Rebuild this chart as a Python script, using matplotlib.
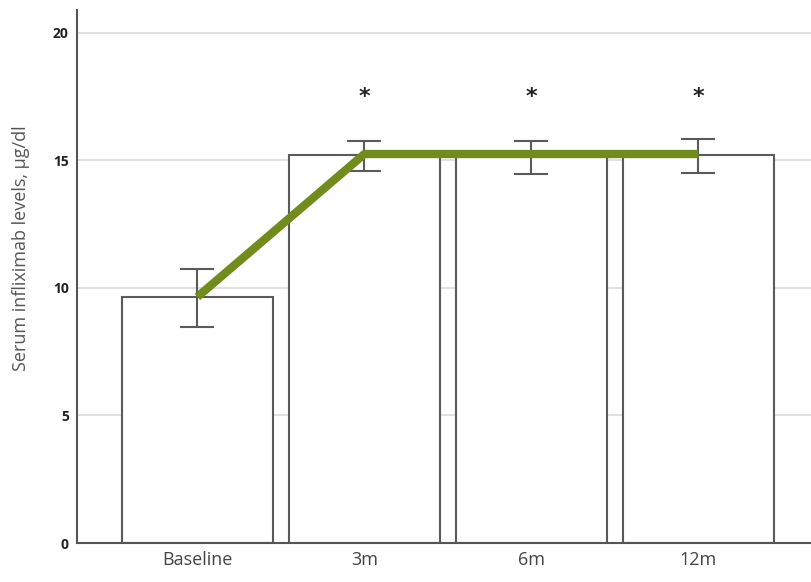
import numpy as np
import matplotlib.pyplot as plt

groups = ['Baseline', '3m', '6m', '12m']
bar_means = [9.65, 15.2, 15.2, 15.2]
err_low = [8.47, 14.6, 14.45, 14.5]
err_high = [10.75, 15.76, 15.76, 15.84]
line_vals = [9.65, 15.25, 15.25, 15.25]
signif = ['', '*', '*', '*']
yticks = [0, 5, 10, 15, 20]

x = np.arange(len(groups))
means = np.array(bar_means)
yerr = [means - np.array(err_low), np.array(err_high) - means]

fig = plt.figure(figsize=(8.12, 5.82), dpi=100)
ax = fig.add_axes([0.095, 0.067, 0.905, 0.916])

ax.set_axisbelow(True)
ax.yaxis.grid(True, color='#dcdcdc', linewidth=1.2)

ax.bar(x, means, width=0.9, color='white', edgecolor='#5a5a5a', linewidth=1.5, zorder=2)
ax.errorbar(x, means, yerr=yerr, fmt='none', ecolor='#5a5a5a', elinewidth=1.5,
            capsize=12.5, capthick=1.5, zorder=3)
ax.plot(x, line_vals, color='#718c1c', linewidth=6, solid_capstyle='butt', zorder=4)

# significance markers
for xi, s in zip(x, signif):
    if s:
        ax.text(xi, 17.5, s, ha='center', va='center', fontsize=16, fontweight='bold', color='#222222')

ax.set_xlim(-0.72, 3.68)
ax.set_ylim(0, 20.9)
ax.set_yticks(yticks)
ax.set_yticklabels([str(t) for t in yticks], fontsize=10, fontweight='bold', color='#222222',
                   family='Open Sans')
ax.set_xticks(x)
ax.set_xticklabels(groups, fontsize=13, color='#444444', family='Open Sans')
ax.tick_params(axis='x', length=0, pad=6)
ax.tick_params(axis='y', length=0, pad=6)

ax.set_ylabel('Serum infliximab levels, µg/dl', fontsize=13, color='#555555', family='Open Sans')
ax.yaxis.set_label_coords(-0.064, 0.553)

for side in ['top', 'right']:
    ax.spines[side].set_visible(False)
for side in ['left', 'bottom']:
    ax.spines[side].set_color('#555555')
    ax.spines[side].set_linewidth(1.5)

plt.savefig('out.png', dpi=100)
